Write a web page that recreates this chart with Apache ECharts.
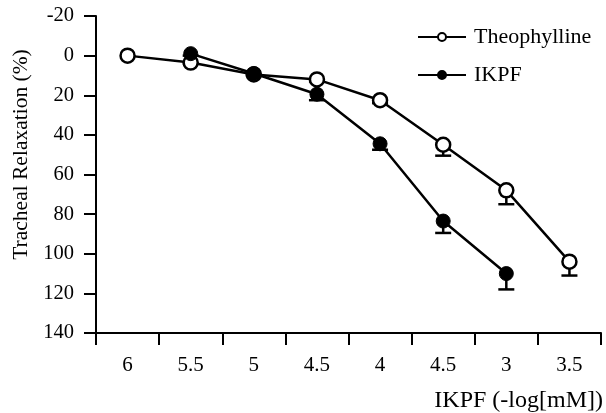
<!DOCTYPE html>
<html>
<head>
<meta charset="utf-8">
<script src="https://cdn.jsdelivr.net/npm/echarts@6/dist/echarts.min.js"></script>
<style>html,body{margin:0;padding:0;background:#fff}#c{width:606px;height:413px}</style>
</head>
<body>
<div id="c"></div>
<script>
const categories = ['6', '5.5', '5', '4.5', '4', '4.5', '3', '3.5'];
const theophylline = [0, 3.5, 9.5, 12, 22.5, 45, 68, 104];
const theophyllineErr = [0, 0.5, 0.5, 1, 1.5, 5.5, 7, 7];
const ikpf = [null, -1, 9, 19.5, 44.5, 83.5, 110, null];
const ikpfErr = [0, 1, 1, 3, 3, 6, 8, 0];
const yTicks = { min: -20, max: 140, interval: 20 };

const FONT = 'Liberation Serif';

function errData(vals, errs) {
  const out = [];
  vals.forEach((v, i) => { if (v !== null && errs[i] > 0) out.push([i, v, v + errs[i]]); });
  return out;
}

function errSeries(vals, errs) {
  return {
    type: 'custom',
    z: 1,
    silent: true,
    data: errData(vals, errs),
    renderItem: function (params, api) {
      const p0 = api.coord([api.value(0), api.value(1)]);
      const p1 = api.coord([api.value(0), api.value(2)]);
      const hw = 8;
      return {
        type: 'group',
        children: [
          { type: 'line', shape: { x1: p0[0], y1: p0[1], x2: p1[0], y2: p1[1] }, style: { stroke: '#000', lineWidth: 2.5 } },
          { type: 'line', shape: { x1: p1[0] - hw, y1: p1[1], x2: p1[0] + hw, y2: p1[1] }, style: { stroke: '#000', lineWidth: 2.5 } }
        ]
      };
    }
  };
}

const chart = echarts.init(document.getElementById('c'), null, { renderer: 'canvas' });
chart.setOption({
  animation: false,
  backgroundColor: '#fff',
  textStyle: { fontFamily: FONT, color: '#000' },
  grid: { left: 96, right: 4, top: 16, bottom: 80, containLabel: false },
  legend: {
    orient: 'vertical',
    left: 412,
    top: 21,
    itemGap: 16,
    itemWidth: 48,
    itemHeight: 10,
    textStyle: { fontFamily: FONT, fontSize: 22, color: '#000', padding: [0, 0, 0, 3] },
    data: ['Theophylline', 'IKPF']
  },
  xAxis: {
    type: 'category',
    position: 'bottom',
    data: categories,
    boundaryGap: true,
    name: 'IKPF (-log[mM])',
    nameLocation: 'end',
    nameGap: 2,
    nameTextStyle: { fontFamily: FONT, fontSize: 24, color: '#000', align: 'right', verticalAlign: 'top', padding: [56, 0, 0, 0] },
    axisLine: { onZero: false, lineStyle: { color: '#000', width: 2 } },
    axisTick: { show: true, alignWithLabel: false, length: 12, lineStyle: { color: '#000', width: 2 } },
    axisLabel: { fontFamily: FONT, fontSize: 21, color: '#000', margin: 22, interval: 0 },
    splitLine: { show: false }
  },
  yAxis: {
    type: 'value',
    inverse: true,
    min: yTicks.min,
    max: yTicks.max,
    interval: yTicks.interval,
    name: 'Tracheal Relaxation (%)',
    nameLocation: 'middle',
    nameGap: 60,
    nameRotate: 90,
    nameTextStyle: { fontFamily: FONT, fontSize: 21.5, color: '#000', padding: [0, 0, 0, 40] },
    axisLine: { show: true, lineStyle: { color: '#000', width: 2 } },
    axisTick: { show: true, length: 12, lineStyle: { color: '#000', width: 2 } },
    axisLabel: { fontFamily: FONT, fontSize: 20.5, color: '#000', margin: 22 },
    splitLine: { show: false }
  },
  series: [
    errSeries(theophylline, theophyllineErr),
    errSeries(ikpf, ikpfErr),
    {
      name: 'Theophylline',
      type: 'line',
      z: 3,
      data: theophylline,
      symbol: 'circle',
      symbolSize: 14,
      showAllSymbol: true,
      lineStyle: { color: '#000', width: 2.5 },
      itemStyle: { color: '#fff', borderColor: '#000', borderWidth: 2.5 }
    },
    {
      name: 'IKPF',
      type: 'line',
      z: 4,
      data: ikpf,
      symbol: 'circle',
      symbolSize: 14,
      showAllSymbol: true,
      lineStyle: { color: '#000', width: 2.5 },
      itemStyle: { color: '#000', borderColor: '#000', borderWidth: 1 }
    }
  ]
});
</script>
</body>
</html>
